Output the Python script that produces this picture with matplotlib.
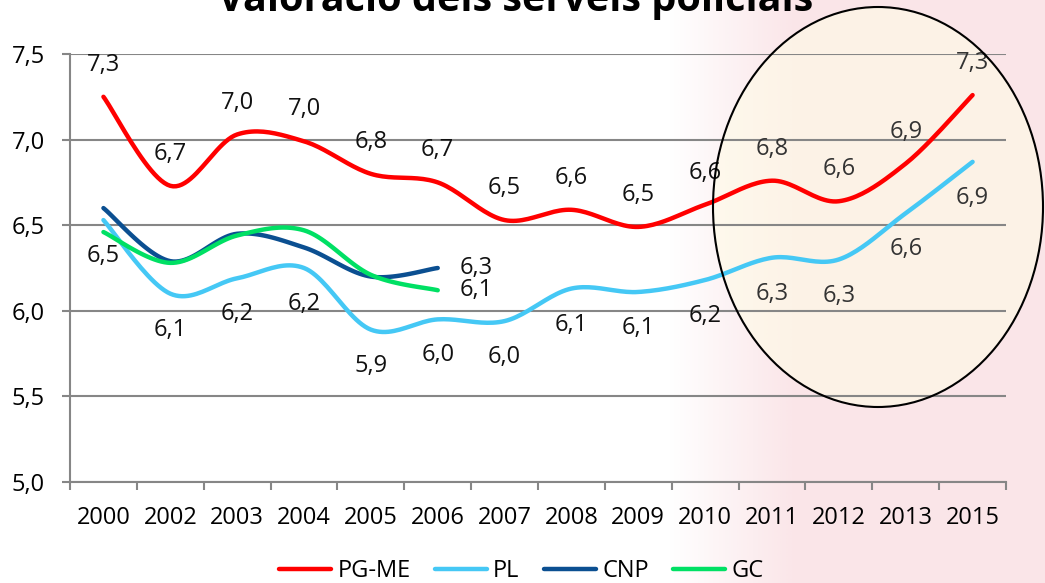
import numpy as np
import matplotlib
matplotlib.use("Agg")
import matplotlib.pyplot as plt
from matplotlib.patches import Ellipse

plt.rcParams['font.family'] = ['Open Sans', 'DejaVu Sans']

# dades llegides del gràfic
anys = ['2000', '2002', '2003', '2004', '2005', '2006', '2007',
        '2008', '2009', '2010', '2011', '2012', '2013', '2015']
pg_me = [7.25, 6.73, 7.03, 6.99, 6.80, 6.75, 6.53, 6.59, 6.49, 6.62, 6.76, 6.64, 6.86, 7.26]
pl = [6.53, 6.10, 6.19, 6.25, 5.89, 5.95, 5.94, 6.13, 6.11, 6.18, 6.31, 6.30, 6.57, 6.87]
cnp = [6.60, 6.29, 6.45, 6.37, 6.20, 6.25]
gc = [6.46, 6.28, 6.44, 6.47, 6.21, 6.12]

pg_me_lab = ['7,3', '6,7', '7,0', '7,0', '6,8', '6,7', '6,5', '6,6', '6,5', '6,6', '6,8', '6,6', '6,9', '7,3']
pl_lab = ['6,5', '6,1', '6,2', '6,2', '5,9', '6,0', '6,0', '6,1', '6,1', '6,2', '6,3', '6,3', '6,6', '6,9']
cnp_lab = '6,3'
gc_lab = '6,1'

y_ticks = [5.0, 5.5, 6.0, 6.5, 7.0, 7.5]
y_tick_labels = ['5,0', '5,5', '6,0', '6,5', '7,0', '7,5']

titol = 'Valoració dels serveis policials'


def suavitza(y, n=24):
    # corba suau tipus Excel (Catmull-Rom amb Bezier)
    x = np.arange(len(y), dtype=float)
    y = np.asarray(y, dtype=float)
    P = np.column_stack([x, y])
    out = []
    t = np.linspace(0, 1, n)[:, None]
    for i in range(len(P) - 1):
        p0 = P[i - 1] if i > 0 else P[i]
        p1 = P[i]
        p2 = P[i + 1]
        p3 = P[i + 2] if i + 2 < len(P) else P[i + 1]
        c1 = p1 + (p2 - p0) / 6
        c2 = p2 - (p3 - p1) / 6
        seg = ((1 - t) ** 3) * p1 + 3 * ((1 - t) ** 2) * t * c1 + 3 * (1 - t) * t ** 2 * c2 + t ** 3 * p2
        out.append(seg if i == 0 else seg[1:])
    s = np.vstack(out)
    return s[:, 0], s[:, 1]


fig = plt.figure(figsize=(10.45, 5.83), dpi=100)
fig.patch.set_facecolor('white')

# fons rosat difuminat a la dreta
bg = fig.add_axes([0, 0, 1, 1], zorder=-5)
bg.axis('off')
xx = np.linspace(0, 1, 300)
alpha = np.clip((xx - 0.64) / 0.12, 0, 1) * 0.25
img = np.zeros((2, 300, 4))
img[..., 0] = 0.93
img[..., 1] = 0.60
img[..., 2] = 0.65
img[..., 3] = alpha
bg.imshow(img, extent=[0, 1, 0, 1], aspect='auto', interpolation='bilinear')
bg.set_xlim(0, 1)
bg.set_ylim(0, 1)

# el·lipse que destaca els darrers anys (farciment sota, vora a sobre)
el_c = (878 / 1045, 1 - 207 / 583)
el_w, el_h = 330 / 1045, 400 / 583
bg.add_patch(Ellipse(el_c, el_w, el_h, facecolor=(1.0, 0.99, 0.9, 0.6),
                     edgecolor='none'))

ax = fig.add_axes([0.067, 0.1732, 0.8957, 0.7342])
ax.patch.set_alpha(0)

colors = {'PG-ME': '#FF0000', 'PL': '#45C8F5', 'CNP': '#0B4F91', 'GC': '#00E064'}
for nom, vals in [('PG-ME', pg_me), ('PL', pl), ('CNP', cnp), ('GC', gc)]:
    sx, sy = suavitza(vals)
    ax.plot(sx, sy, color=colors[nom], lw=3.2, solid_capstyle='round', label=nom, zorder=3)

fs = 17
for i, v in enumerate(pg_me):
    ax.annotate(pg_me_lab[i], (i, v), xytext=(0, 23), textcoords='offset points',
                ha='center', va='center', fontsize=fs, color='#111111' if i < 10 else '#333333')
for i, v in enumerate(pl):
    ax.annotate(pl_lab[i], (i, v), xytext=(0, -26), textcoords='offset points',
                ha='center', va='center', fontsize=fs, color='#111111' if i < 10 else '#333333')
ax.annotate(cnp_lab, (len(cnp) - 1, cnp[-1]), xytext=(28, 0), textcoords='offset points',
            ha='center', va='center', fontsize=fs, color='#111111')
ax.annotate(gc_lab, (len(gc) - 1, gc[-1]), xytext=(28, 0), textcoords='offset points',
            ha='center', va='center', fontsize=fs, color='#111111')

ax.set_xlim(-0.5, len(anys) - 0.5)
ax.set_ylim(5.0, 7.5)
ax.set_xticks(range(len(anys)))
ax.set_xticklabels(anys, fontsize=fs)
ax.set_xticks(np.arange(-0.5, len(anys), 1), minor=True)
ax.tick_params(axis='x', which='major', length=0, pad=17.5)
ax.tick_params(axis='x', which='minor', length=6, width=1.5, color='#868686')
ax.set_yticks(y_ticks)
ax.set_yticklabels(y_tick_labels, fontsize=fs)
ax.tick_params(axis='y', length=6, width=1.5, color='#868686', pad=12)

ax.grid(axis='y', color='#868686', lw=1.5)
ax.set_axisbelow(True)
for s in ['top', 'right']:
    ax.spines[s].set_visible(False)
for s in ['left', 'bottom']:
    ax.spines[s].set_color('#868686')
    ax.spines[s].set_linewidth(1.5)

fig.text(0.493, 1 - 11 / 583, titol, ha='center', va='baseline',
         fontsize=28.5, fontweight='bold')

fig.legend(loc='center', bbox_to_anchor=(0.499, 0.02), ncol=4, frameon=False,
           fontsize=fs, handlelength=2.2, handletextpad=0.25, columnspacing=1.05)

fig.add_artist(Ellipse(el_c, el_w, el_h, transform=fig.transFigure,
                       facecolor='none', edgecolor='black', lw=1.5, zorder=10))

fig.savefig('out.png', dpi=100)
